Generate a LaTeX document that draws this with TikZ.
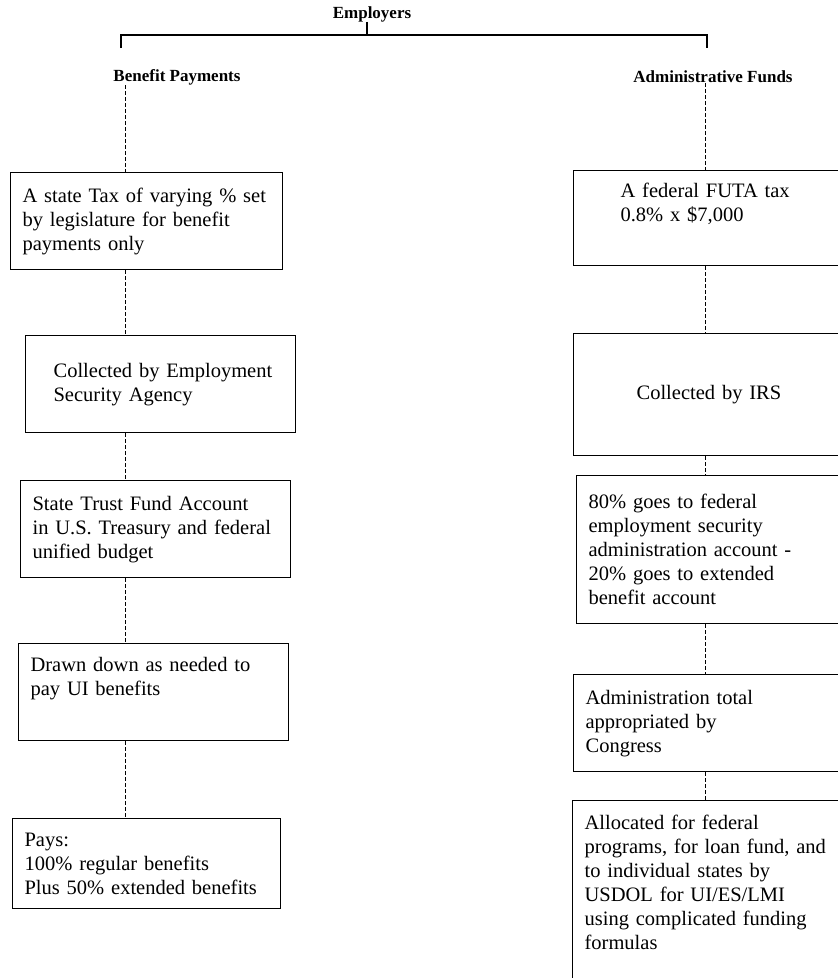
\documentclass[tikz,border=0pt]{standalone}
\usepackage{fontspec}
\setmainfont{Liberation Serif}
\hyphenpenalty=10000
\exhyphenpenalty=10000

\newcommand{\toptext}[2]{\parbox[c][#1][t]{\linewidth}{#2}}

\tikzset{
	fundbox/.style={draw, line width=1.2pt, anchor=north west, inner xsep=12pt, inner ysep=0pt,
		align=left, font=\fontsize{20.5}{24}\selectfont},
	head/.style={inner sep=0pt, font=\fontsize{17}{20}\selectfont\bfseries},
	link/.style={line width=1pt, dash pattern=on 4pt off 2pt},
	bar/.style={line width=1.2pt},
}

\begin{document}
\begin{tikzpicture}[x=1pt, y=-1pt]
			\useasboundingbox[fill=white] (0,0) rectangle (838,978);

			% headings
			\node[head] (emp) at (372,14) {Employers};
			\node[head] (hbp) at (177,77) {Benefit Payments};
			\node[head] (haf) at (713,77) {Administrative Funds};

			\coordinate (bar) at (367,35);
			\coordinate (tl) at (121,48);
			\coordinate (tr) at (707,48);
			\coordinate (lx) at (125,0);
			\coordinate (rx) at (705,0);

			% benefit payments column
			\node[fundbox, text width=248pt, minimum height=97pt] (b1) at (10,172)
				{A state Tax of varying \% set\\ by legislature for benefit\\ payments only};
			\node[fundbox, text width=246pt, minimum height=97pt] (b2) at (25,335)
				{\hspace*{16pt}Collected by Employment\\ \hspace*{16pt}Security Agency};
			\node[fundbox, text width=246pt, minimum height=97pt] (b3) at (20,480)
				{State Trust Fund Account\\ in U.S. Treasury and federal\\ unified budget};
			\node[fundbox, text width=246pt, inner ysep=14pt] (b4) at (18,643)
				{\toptext{69pt}{Drawn down as needed to\\ pay UI benefits}};
			\node[fundbox, text width=244pt, minimum height=90pt] (b5) at (12,818)
				{Pays:\\ 100\% regular benefits\\ Plus 50\% extended benefits};

			% administrative funds column
			\node[fundbox, inner xsep=47pt, text width=200pt, inner ysep=12pt] (r1) at (573,170)
				{\toptext{71pt}{A federal FUTA tax\\ 0.8\% x \$7,000}};
			\node[fundbox, inner xsep=63pt, text width=200pt, minimum height=122pt] (r2) at (573,333)
				{Collected by IRS};
			\node[fundbox, text width=260pt, minimum height=148pt] (r3) at (576,475)
				{80\% goes to federal\\ employment security\\ administration account -\\ 20\% goes to extended\\ benefit account};
			\node[fundbox, text width=260pt, minimum height=97pt] (r4) at (573,674)
				{Administration total\\ appropriated by\\ Congress};
			\node[fundbox, text width=260pt, inner ysep=14pt] (r5) at (572,800)
				{\toptext{200pt}{Allocated for federal\\ programs, for loan fund, and\\ to individual states by\\ USDOL for UI/ES/LMI\\ using complicated funding\\ formulas}};

			% connectors
			\draw[bar] (tl) |- (bar) -| (tr);
			\draw[bar] (emp.south -| bar) -- (bar);
			\draw[link] (hbp.south -| lx) -- (b1.north -| lx);
			\draw[link] (haf.south -| rx) -- (r1.north -| rx);
			\foreach \a/\b in {b1/b2, b2/b3, b3/b4, b4/b5}
				\draw[link] (\a.south -| lx) -- (\b.north -| lx);
			\foreach \a/\b in {r1/r2, r2/r3, r3/r4, r4/r5}
				\draw[link] (\a.south -| rx) -- (\b.north -| rx);
\end{tikzpicture}
\end{document}
